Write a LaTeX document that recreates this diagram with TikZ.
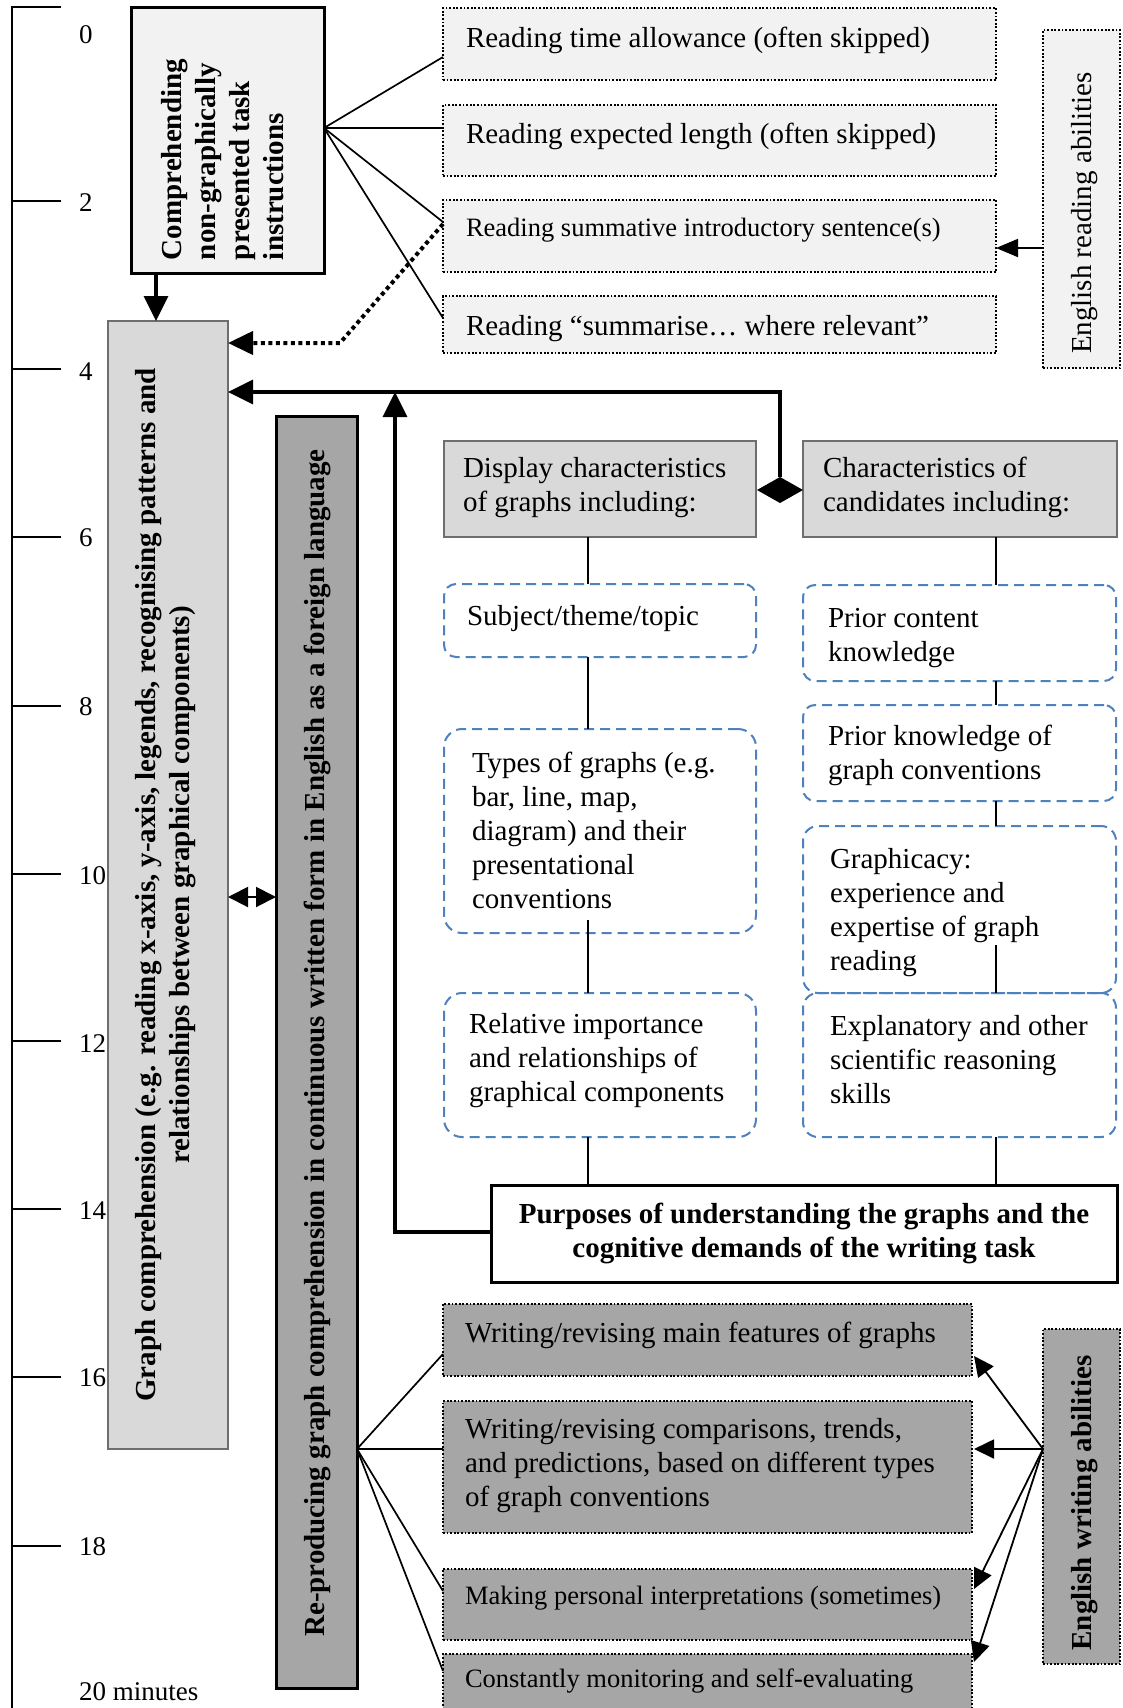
\documentclass[tikz,border=0pt]{standalone}
\usepackage{fontspec}
\setmainfont{Liberation Serif}
\usetikzlibrary{arrows.meta,calc,shapes.geometric}
\definecolor{lightg}{HTML}{F2F2F2}
\definecolor{boxg}{HTML}{D9D9D9}
\definecolor{midg}{HTML}{A6A6A6}
\definecolor{dashblue}{HTML}{4F81BD}
\definecolor{bordg}{HTML}{6E6E6E}
\newcommand\myfs{\fontsize{29}{34}\selectfont}
\newcommand\myfsm{\fontsize{26.5}{31}\selectfont}
\newcommand\myfsl{\fontsize{27}{32}\selectfont}
\tikzset{
  plain/.style={inner sep=0pt, outer sep=0pt},
  boxat/.style={plain, anchor=north west},
  dotbox/.style={boxat, draw=black, line width=1.8pt, dash pattern=on 1.8pt off 1.8pt, fill=lightg},
  dotboxdark/.style={dotbox, fill=midg},
  greybox/.style={boxat, draw=bordg, line width=1.3pt, fill=boxg},
  heavybox/.style={boxat, draw=black, line width=3pt},
  bluebox/.style={boxat, draw=dashblue, line width=2pt, dash pattern=on 10pt off 6pt, rounded corners=#1},
  bluebox/.default=12pt,
  txt/.style={plain, anchor=base west, align=left, font=\myfs},
  rtxt/.style={plain, rotate=90, font=\bfseries\myfs},
  conn/.style={line width=1.7pt},
  bigarrow/.style={line width=3.4pt, -{Triangle[length=25pt,width=24pt]}},
  dotarrow/.style={line width=4pt, dash pattern=on 4pt off 3.5pt, -{Triangle[length=25pt,width=23pt]}},
  dblarrow/.style={line width=2pt, {Triangle[length=20pt,width=20pt]}-{Triangle[length=20pt,width=20pt]}},
  smallarrow/.style={line width=1.8pt, -{Triangle[length=22pt,width=18pt]}},
  warrow/.style={line width=1.8pt, -{Triangle[length=20pt,width=19pt]}},
}
\begin{document}
\begin{tikzpicture}[x=1pt,y=-1pt]
\useasboundingbox (0,0) rectangle (1122,1708);
\fill[white] (0,0) rectangle (1122,1708);

% time scale
\draw[line width=2pt] (12,1710) -- (12,7) -- (61,7);
\foreach \yy in {201,369,537,706,874,1041,1209,1377,1546}
  \draw[line width=1.6pt] (12,\yy) -- (61,\yy);
\foreach \lab/\yy in {0/43,2/211,4/380,6/546,8/715,10/884,12/1052,14/1219,16/1386,18/1555}
  \node[txt,font=\myfsl] (lab\lab) at (79,\yy) {\lab};
\node[txt,font=\myfsl] (lab20) at (79,1700) {20 minutes};

% comprehending task instructions (multi-line: base = last line)
\node[heavybox, fill=lightg, minimum width=193pt, minimum height=266pt] (comp) at (131,7) {};
\node[rtxt, anchor=base west, align=left] (comptxt) at (283,260) {Comprehending\\non-graphically\\presented task\\instructions};

% reading boxes
\node[dotbox, minimum width=553pt, minimum height=72pt] (r1) at (443,8) {};
\node[txt] (r1t) at (466,47) {Reading time allowance (often skipped)};
\node[dotbox, minimum width=553pt, minimum height=71pt] (r2) at (443,105) {};
\node[txt] (r2t) at (466,143) {Reading expected length (often skipped)};
\node[dotbox, minimum width=553pt, minimum height=72pt] (r3) at (443,200) {};
\node[txt, font=\myfsm] (r3t) at (466,236) {Reading summative introductory sentence(s)};
\node[dotbox, minimum width=553pt, minimum height=57pt] (r4) at (443,296) {};
\node[txt] (r4t) at (466,335) {Reading “summarise… where relevant”};

\node[dotbox, minimum width=77pt, minimum height=338pt] (er) at (1043,30) {};
\node[rtxt, font=\myfs, anchor=base] (ert) at (1091,213) {English reading abilities};

% graph comprehension
\node[greybox, minimum width=120pt, minimum height=1128pt] (gc) at (108,321) {};
\node[rtxt, anchor=base, align=center] (gct) at (189,885) {Graph comprehension (e.g. reading x-axis, y-axis, legends, recognising patterns and\\relationships between graphical components)};

% reproducing
\node[heavybox, fill=midg, minimum width=81pt, minimum height=1272pt] (rep) at (276,416) {};
\node[rtxt, anchor=base] (rept) at (324,1043) {Re-producing graph comprehension in continuous written form in English as a foreign language};

% characteristics
\node[greybox, minimum width=312pt, minimum height=96pt] (disp) at (444,441) {};
\node[txt] (dispt) at (463,511) {Display characteristics\\of graphs including:};
\node[greybox, minimum width=314pt, minimum height=96pt] (char) at (803,441) {};
\node[txt] (chart) at (823,511) {Characteristics of\\candidates including:};

\node[bluebox, minimum width=312pt, minimum height=73pt] (subj) at (444,584) {};
\node[txt] (subjt) at (467,625) {Subject/theme/topic};
\node[bluebox=18pt, minimum width=312pt, minimum height=204pt] (types) at (444,729) {};
\node[txt] (typest) at (472,908) {Types of graphs (e.g.\\bar, line, map,\\diagram) and their\\presentational\\conventions};
\node[bluebox=18pt, minimum width=312pt, minimum height=144pt] (rel) at (444,993) {};
\node[txt] (relt) at (469,1101) {Relative importance\\and relationships of\\graphical components};

\node[bluebox, minimum width=313pt, minimum height=96pt] (pc) at (803,585) {};
\node[txt] (pct) at (828,661) {Prior content\\knowledge};
\node[bluebox, minimum width=313pt, minimum height=96pt] (pk) at (803,705) {};
\node[txt] (pkt) at (828,779) {Prior knowledge of\\graph conventions};
\node[bluebox=15pt, minimum width=313pt, minimum height=167pt] (gr) at (803,826) {};
\node[txt] (grt) at (830,970) {Graphicacy:\\experience and\\expertise of graph\\reading};
\node[bluebox=15pt, minimum width=313pt, minimum height=144pt] (ex) at (803,993) {};
\node[txt] (ext) at (830,1103) {Explanatory and other\\scientific reasoning\\skills};

\node[heavybox, fill=white, minimum width=626pt, minimum height=97pt] (purp) at (491,1185) {};
\node[plain, anchor=base, align=center, font=\bfseries\myfs] (purpt) at (804,1257) {Purposes of understanding the graphs and the\\cognitive demands of the writing task};

% writing boxes
\node[dotboxdark, minimum width=529pt, minimum height=72pt] (w1) at (443,1304) {};
\node[txt] (w1t) at (465,1342) {Writing/revising main features of graphs};
\node[dotboxdark, minimum width=529pt, minimum height=132pt] (w2) at (443,1401) {};
\node[txt] (w2t) at (465,1506) {Writing/revising comparisons, trends,\\and predictions, based on different types\\of graph conventions};
\node[dotboxdark, minimum width=529pt, minimum height=71pt] (w3) at (443,1569) {};
\node[txt, font=\myfsm] (w3t) at (465,1604) {Making personal interpretations (sometimes)};
\node[dotboxdark, minimum width=529pt, minimum height=80pt] (w4) at (443,1654) {};
\node[txt, font=\myfsm] (w4t) at (465,1687) {Constantly monitoring and self-evaluating};

\node[dotboxdark, minimum width=77pt, minimum height=335pt] (ew) at (1043,1329) {};
\node[rtxt, anchor=base] (ewt) at (1091,1503) {English writing abilities};

% diamond
\node[diamond, fill=black, plain, minimum width=46pt, minimum height=26pt] (dmd) at (780,490) {};

% connectors: instructions fan
\coordinate (cfan) at ($(comp.north east)+(0,121)$);
\draw[conn] (cfan) -- ($(r1.north west)+(0,49)$);
\draw[conn] (cfan) -- ($(r2.north west)+(0,23)$);
\draw[conn] (cfan) -- ($(r3.north west)+(0,22)$);
\draw[conn] (cfan) -- ($(r4.north west)+(0,22)$);

\coordinate (dbend) at (340,343);
\draw[dotarrow] ($(r3.north west)+(0,24)$) -- (dbend) -- ($(gc.north east)+(0,22)$);
\draw[smallarrow] ($(er.north west)+(0,218)$) -- ($(r3.north east)+(0,48)$);

\draw[bigarrow] ($(comp.south west)+(25,0)$) -- ($(gc.north west)+(48,0)$);
\draw[bigarrow] (dmd.north) |- ($(gc.north east)+(0,71)$);
\coordinate (uptip) at (395,392);
\draw[bigarrow] ($(purp.north west)+(0,47)$) -| (uptip);
\draw[dblarrow] ($(gc.north east)+(0,576)$) -- ($(rep.north west)+(0,481)$);

% left column
\draw[conn] ($(disp.south west)+(144,0)$) -- ($(subj.north west)+(144,0)$);
\draw[conn] ($(subj.south west)+(144,0)$) -- ($(types.north west)+(144,0)$);
\draw[conn] ($(types.south west)+(144,-13)$) -- ($(rel.north west)+(144,0)$);
\draw[conn] ($(rel.south west)+(144,0)$) -- ($(purp.north west)+(97,0)$);
% right column
\draw[conn] ($(char.south west)+(193,0)$) -- ($(pc.north west)+(193,0)$);
\draw[conn] ($(pc.south west)+(193,0)$) -- ($(pk.north west)+(193,0)$);
\draw[conn] ($(pk.south west)+(193,0)$) -- ($(gr.north west)+(193,0)$);
\draw[conn] ($(gr.south west)+(193,-48)$) -- ($(ex.north west)+(193,0)$);
\draw[conn] ($(ex.south west)+(193,0)$) -- ($(purp.north west)+(505,0)$);

% writing fan
\coordinate (repf) at ($(rep.north east)+(0,1033)$);
\draw[conn] (repf) -- ($(w1.north west)+(0,50)$);
\draw[conn] (repf) -- ($(w2.north west)+(0,48)$);
\draw[conn] (repf) -- ($(w3.north west)+(0,22)$);
\draw[conn] (repf) -- ($(w4.north west)+(0,17)$);

\coordinate (ewf) at ($(ew.north west)+(0,120)$);
\draw[warrow] (ewf) -- ($(w1.north east)+(2,52)$);
\draw[warrow] (ewf) -- ($(w2.north east)+(2,48)$);
\draw[warrow] (ewf) -- ($(w3.north east)+(2,20)$);
\draw[warrow] (ewf) -- ($(w4.north east)+(2,8)$);
\end{tikzpicture}
\end{document}
